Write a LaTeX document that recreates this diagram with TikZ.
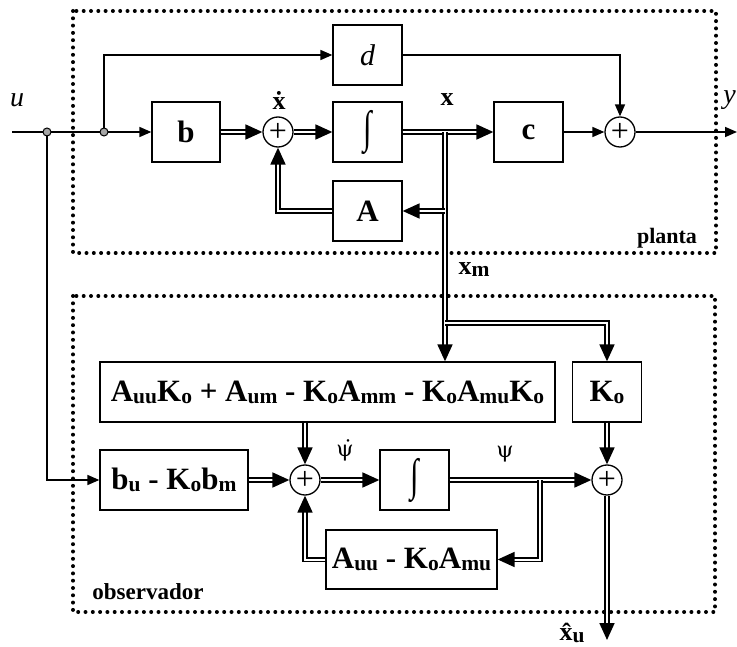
\documentclass[tikz,border=0pt]{standalone}
\usepackage{fontspec}
\setmainfont{Liberation Serif}
\newfontfamily\greekfont{DejaVu Serif}
\usetikzlibrary{arrows.meta}
\newcommand\lsub[1]{\raisebox{-2pt}{\fontsize{21.5}{21.5}\selectfont #1}}
\newcommand\integ{\raisebox{-3pt}{\scalebox{1}[1.45]{\normalfont ∫}}}
\begin{document}
\begin{tikzpicture}[
  x=1pt,y=-1pt,
  blk/.style={rectangle,draw,line width=1.3pt,minimum height=60pt,inner sep=2pt,font=\fontsize{31}{34}\selectfont\bfseries},
  sumnode/.style={circle,draw,line width=1.3pt,minimum size=30pt,inner sep=0pt,font=\fontsize{32}{32}\selectfont},
  jdot/.style={circle,draw,line width=1pt,fill=gray!70,minimum size=8pt,inner sep=0pt},
  sig/.style={line width=1.6pt,-{Triangle[length=12pt,width=10pt]}},
  bus/.style={double,double distance=2pt,line width=1.8pt,-{Triangle[length=17pt,width=15pt]}},
  frame/.style={line width=4pt,line cap=round,dash pattern=on 0pt off 7.3pt},
  lbl/.style={font=\fontsize{26}{28}\selectfont\bfseries},
  greek/.style={font=\fontsize{22}{22}\selectfont\greekfont}
]
\useasboundingbox (0,0) rectangle (737,647);
% frames
\draw[frame] (73,11) rectangle (716,253);
\draw[frame] (73,296) rectangle (715,612);
% planta
\node[blk,minimum width=68pt] (b) at (186,132) {b};
\node[sumnode] (sum1) at (278,132) {+};
\node[blk,minimum width=69pt] (integ1) at (367.5,132) {\integ};
\node[blk,minimum width=69pt,font=\fontsize{30}{34}\selectfont\itshape] (d) at (367.5,55) {d};
\node[blk,minimum width=69pt] (A) at (367.5,211) {A};
\node[blk,minimum width=69pt] (c) at (528.5,132) {c};
\node[sumnode] (sum2) at (620,132) {+};
% observador
\node[blk,minimum width=455pt] (big) at (327.5,392)
  {A\lsub{uu}K\lsub{o} + A\lsub{um} - K\lsub{o}A\lsub{mm} - K\lsub{o}A\lsub{mu}K\lsub{o}};
\node[blk,minimum width=69pt] (Ko) at (607,392) {K\lsub{o}};
\node[blk,minimum width=148pt] (bu) at (174,480) {b\lsub{u} - K\lsub{o}b\lsub{m}};
\node[sumnode] (sum3) at (305,480) {+};
\node[blk,minimum width=69pt] (integ2) at (414.5,480) {\integ};
\node[sumnode] (sum4) at (607,480) {+};
\node[blk,minimum width=171pt,minimum height=59pt] (Auu) at (411.5,559.5) {A\lsub{uu} - K\lsub{o}A\lsub{mu}};
% junctions
\coordinate (in) at (12,132);
\coordinate (out) at (737,132);
\coordinate (br1) at (445,132);
\coordinate (br2) at (445,211);
\coordinate (br3) at (445,323);
\coordinate (br4) at (540,480);
\coordinate (xhat) at (607,640);
% plant signals
\draw[sig] (in) -- (b.west);
\draw[sig] (104,132) |- (d.west);
\draw[sig] (d.east) -| (sum2.north);
\draw[sig] (c) -- (sum2);
\draw[sig] (sum2) -- (out);
\draw[bus] (b) -- (sum1);
\draw[bus] (sum1) -- (integ1);
\draw[bus] (integ1) -- (c);
\draw[bus] (br1) -- (br1 |- big.north);
\draw[bus] (br2) -- (A.east);
\draw[bus] (A.west) -| (sum1.south);
% observer signals
\draw[sig] (47,132) |- (bu.west);
\draw[bus] (br3) -| (Ko.north);
\draw[bus] (bu) -- (sum3);
\draw[bus] (big.south -| sum3) -- (sum3.north);
\draw[bus] (sum3) -- (integ2);
\draw[bus] (integ2) -- (sum4);
\draw[bus] (br4) |- (Auu.east);
\draw[bus] (Auu.west) -| (sum3.south);
\draw[bus] (Ko) -- (sum4);
\draw[bus] (sum4) -- (xhat);
\node[jdot] (j1) at (47,132) {};
\node[jdot] (j2) at (104,132) {};
% labels
\node[font=\fontsize{28}{28}\selectfont\itshape] (ulbl) at (17,100) {u};
\node[font=\fontsize{28}{28}\selectfont\itshape,anchor=east,inner sep=1pt] (ylbl) at (737,100) {y};
\node[lbl] (xdot) at (279,100) {\.{x}};
\node[lbl] (xlbl) at (447,100) {x};
\node[lbl] (xm) at (474,270) {x\lsub{m}};
\node[lbl] (xhatlbl) at (572,633) {\^{x}\lsub{u}};
\node[greek] (psidot) at (345,450) {ψ̇};
\node[greek] (psi) at (505,454) {ψ};
\node[font=\fontsize{22}{22}\selectfont\bfseries] (planta) at (667,238) {planta};
\node[font=\fontsize{23}{23}\selectfont\bfseries] (obs) at (148,592) {observador};
\end{tikzpicture}
\end{document}
